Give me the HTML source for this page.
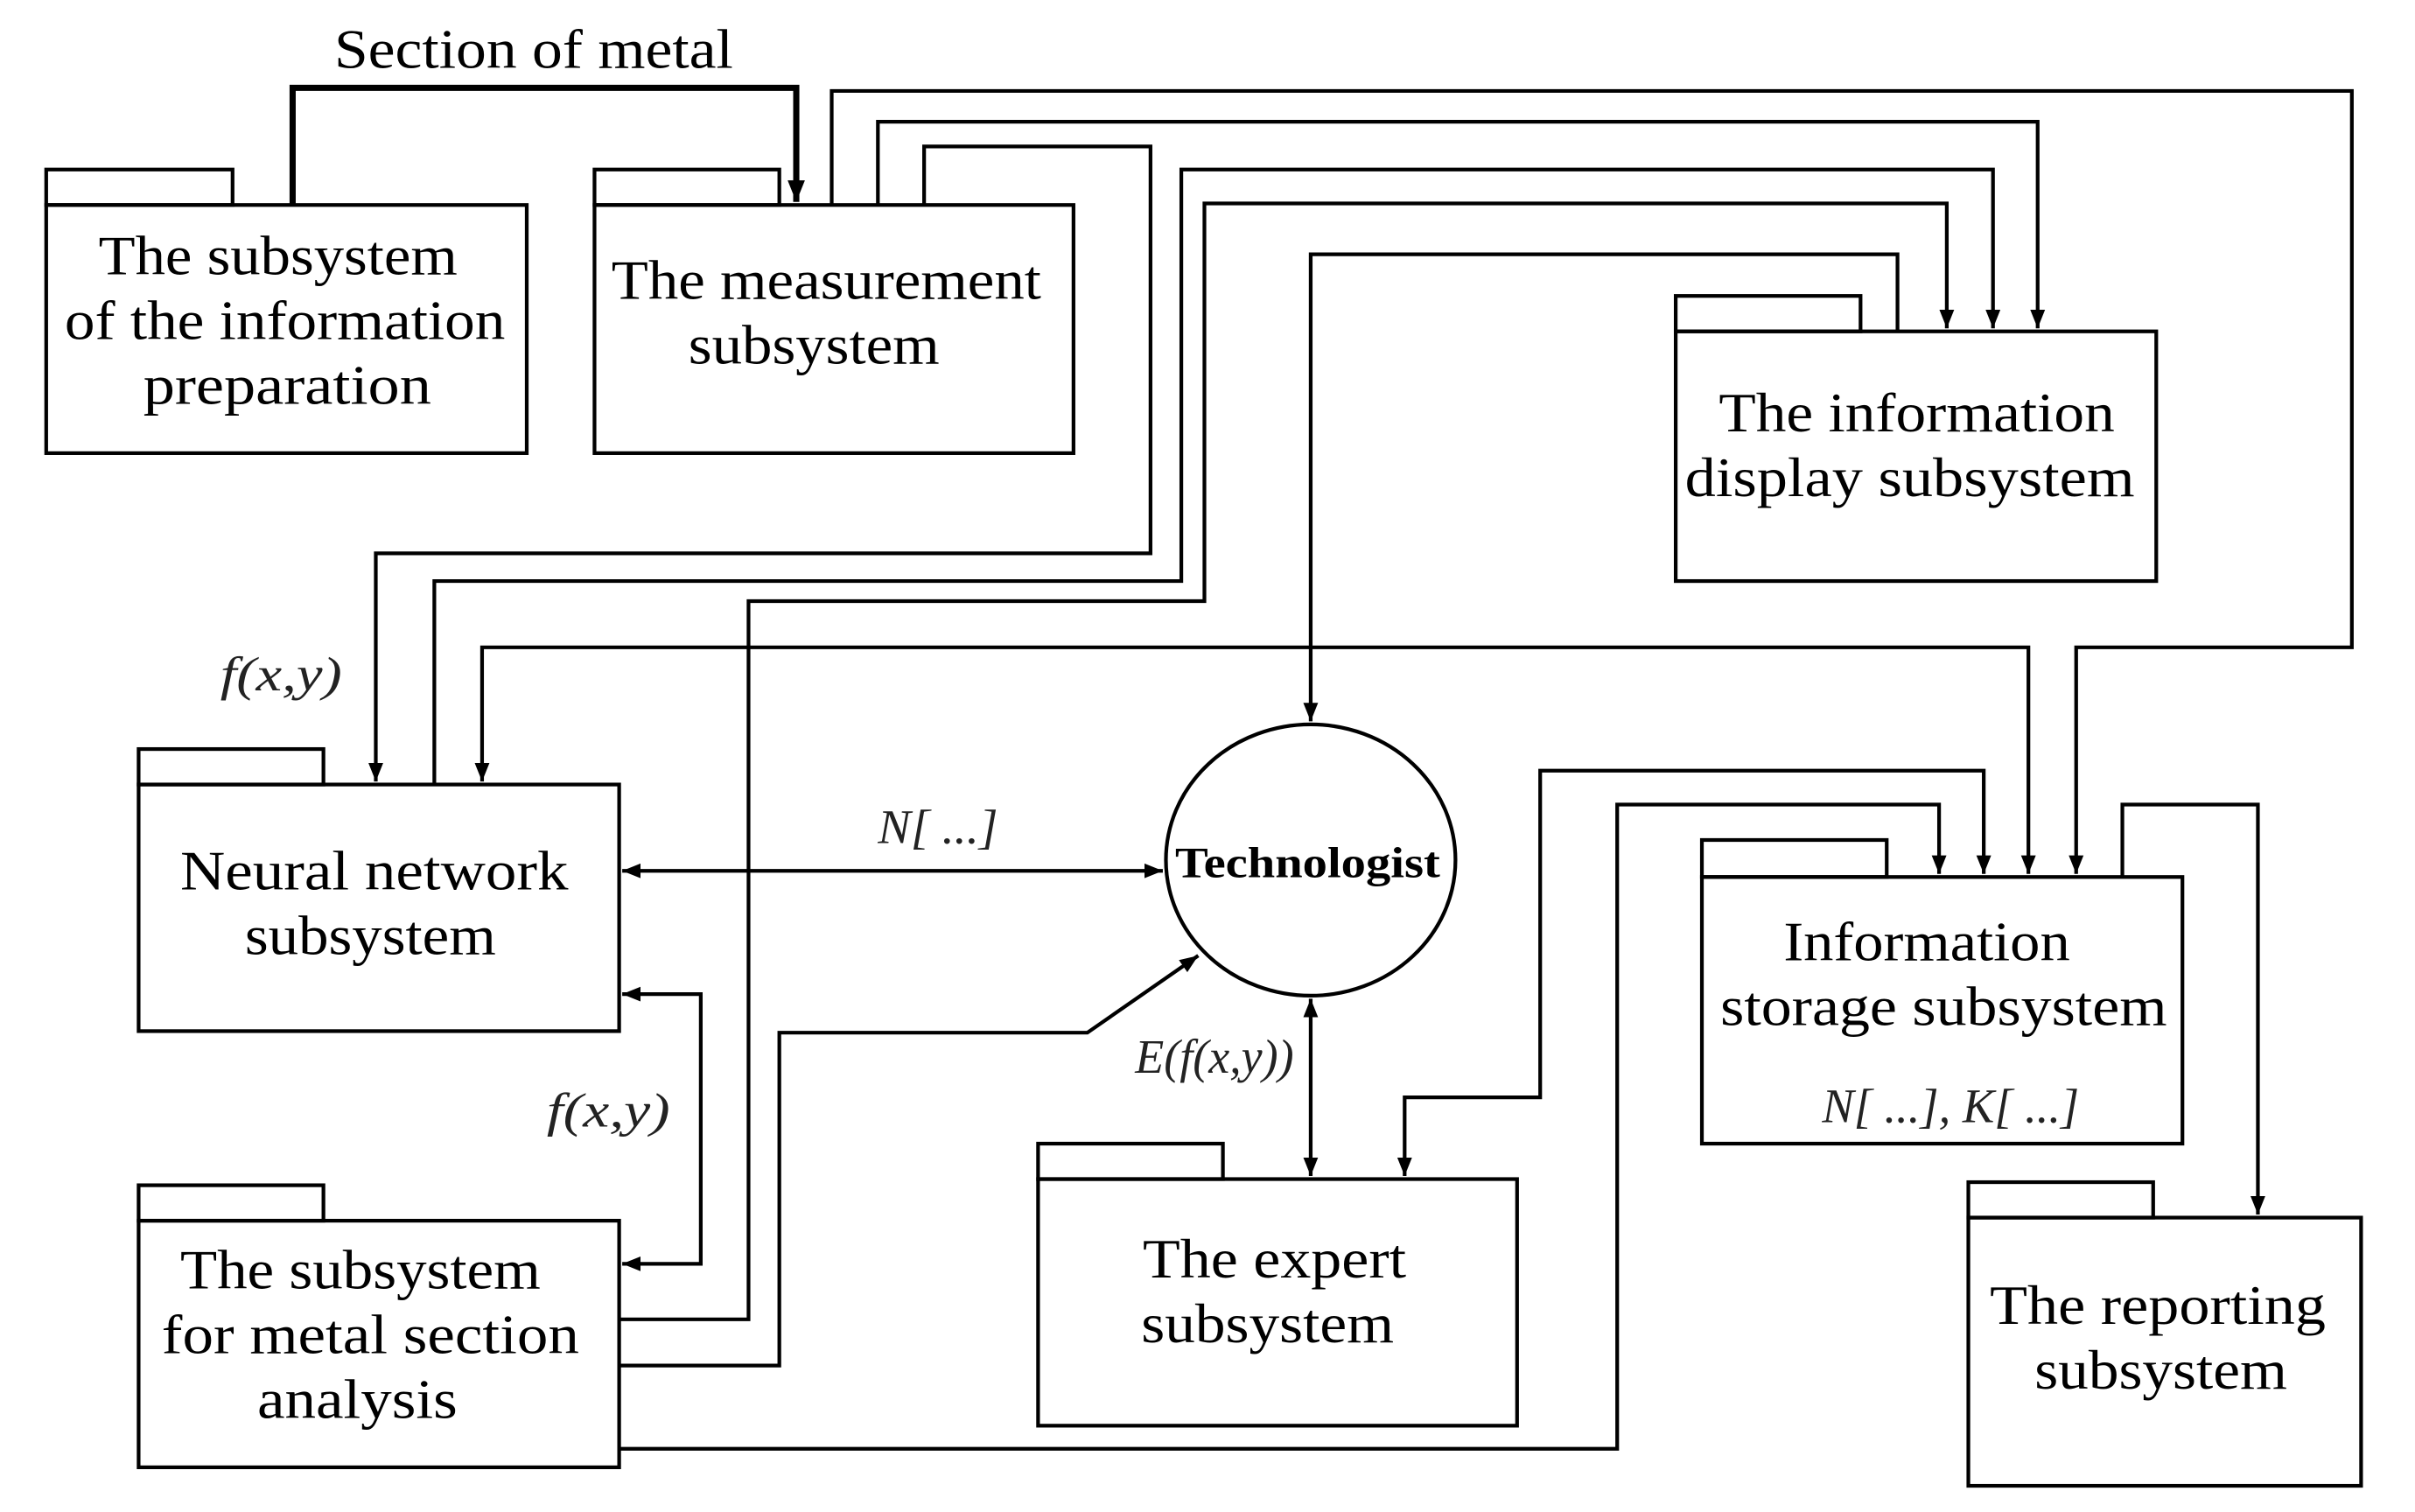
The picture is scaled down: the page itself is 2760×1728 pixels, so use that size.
<!DOCTYPE html>
<html><head><meta charset="utf-8"><style>html,body{margin:0;padding:0;background:#fff}svg{display:block}</style></head>
<body>
<svg width="2760" height="1728" viewBox="0 0 1568 981" preserveAspectRatio="none" xmlns="http://www.w3.org/2000/svg">
<defs>
<marker id="a" viewBox="0 0 10 10" refX="10" refY="5" markerWidth="5" markerHeight="5" orient="auto-start-reverse" markerUnits="strokeWidth"><path d="M0,1 L10,5 L0,9 z" fill="#000"/></marker>
<marker id="b" viewBox="0 0 10 10" refX="10" refY="5" markerWidth="3.5" markerHeight="3.5" orient="auto" markerUnits="strokeWidth"><path d="M0,1 L10,5 L0,9 z" fill="#000"/></marker>
</defs>
<rect width="1568" height="981" fill="#fff"/>
<g fill="none" stroke="#000" stroke-width="2.4">
<rect x="30" y="133" width="312" height="161"/><rect x="30" y="110" width="121" height="23"/>
<rect x="386" y="133" width="311" height="161"/><rect x="386" y="110" width="120" height="23"/>
<rect x="1088" y="215" width="312" height="162"/><rect x="1088" y="192" width="120" height="23"/>
<rect x="90" y="509" width="312" height="160"/><rect x="90" y="486" width="120" height="23"/>
<rect x="90" y="792" width="312" height="160"/><rect x="90" y="769" width="120" height="23"/>
<rect x="674" y="765" width="311" height="160"/><rect x="674" y="742" width="120" height="23"/>
<rect x="1105" y="569" width="312" height="173"/><rect x="1105" y="545" width="120" height="24"/>
<rect x="1278" y="790" width="255" height="174"/><rect x="1278" y="767" width="120" height="23"/>
<ellipse cx="851" cy="558" rx="94" ry="88"/>
<path d="M190,133 V57 H517 V131" stroke-width="4" marker-end="url(#b)"/>
<path d="M540,133 V59 H1527 V420 H1348 V567" marker-end="url(#a)"/>
<path d="M570,133 V79 H1323 V213" marker-end="url(#a)"/>
<path d="M600,133 V95 H747 V359 H244 V507" marker-end="url(#a)"/>
<path d="M282,509 V377 H767 V110 H1294 V213" marker-end="url(#a)"/>
<path d="M402,856 H486 V390 H782 V132 H1264 V213" marker-end="url(#a)"/>
<path d="M1232,215 V165 H851 V468" marker-end="url(#a)"/>
<path d="M313,507 V420 H1317 V567" marker-start="url(#a)" marker-end="url(#a)"/>
<path d="M404,565 H755" marker-start="url(#a)" marker-end="url(#a)"/>
<path d="M402,886 H506 V670 H706 L778,620" marker-end="url(#a)"/>
<path d="M851,648 V763" marker-start="url(#a)" marker-end="url(#a)"/>
<path d="M404,645 H455 V820 H404" marker-start="url(#a)" marker-end="url(#a)"/>
<path d="M912,763 V712 H1000 V500 H1288 V567" marker-start="url(#a)" marker-end="url(#a)"/>
<path d="M402,940 H1050 V522 H1259 V567" marker-end="url(#a)"/>
<path d="M1378,569 V522 H1466 V788" marker-end="url(#a)"/>
</g>
<g font-family="Liberation Serif, serif" font-size="36" fill="#000" lengthAdjust="spacingAndGlyphs">
<text x="217" y="44" textLength="259" lengthAdjust="spacingAndGlyphs">Section of metal</text>
<text x="64" y="178" textLength="233" lengthAdjust="spacingAndGlyphs">The subsystem</text>
<text x="42" y="220" textLength="286" lengthAdjust="spacingAndGlyphs">of the information</text>
<text x="93" y="262" textLength="187" lengthAdjust="spacingAndGlyphs">preparation</text>
<text x="397" y="194" textLength="279" lengthAdjust="spacingAndGlyphs">The measurement</text>
<text x="447" y="236" textLength="163" lengthAdjust="spacingAndGlyphs">subsystem</text>
<text x="1116" y="280" textLength="257" lengthAdjust="spacingAndGlyphs">The information</text>
<text x="1094" y="322" textLength="292" lengthAdjust="spacingAndGlyphs">display subsystem</text>
<text x="117" y="577" textLength="252" lengthAdjust="spacingAndGlyphs">Neural network</text>
<text x="159" y="619" textLength="163" lengthAdjust="spacingAndGlyphs">subsystem</text>
<text x="117" y="836" textLength="234" lengthAdjust="spacingAndGlyphs">The subsystem</text>
<text x="105" y="878" textLength="271" lengthAdjust="spacingAndGlyphs">for metal section</text>
<text x="167" y="920" textLength="130" lengthAdjust="spacingAndGlyphs">analysis</text>
<text x="742" y="829" textLength="171" lengthAdjust="spacingAndGlyphs">The expert</text>
<text x="741" y="871" textLength="164" lengthAdjust="spacingAndGlyphs">subsystem</text>
<text x="1158" y="623" textLength="186" lengthAdjust="spacingAndGlyphs">Information</text>
<text x="1117" y="665" textLength="290" lengthAdjust="spacingAndGlyphs">storage subsystem</text>
<text x="1292" y="859" textLength="218" lengthAdjust="spacingAndGlyphs">The reporting</text>
<text x="1321" y="901" textLength="164" lengthAdjust="spacingAndGlyphs">subsystem</text>
<text x="763" y="569" font-size="28" font-weight="bold" textLength="172" lengthAdjust="spacingAndGlyphs">Technologist</text>
</g>
<g font-family="Liberation Serif, serif" font-size="31" font-style="italic" fill="#222">
<text x="143" y="448" textLength="79" lengthAdjust="spacingAndGlyphs">f(x,y)</text>
<text x="355" y="731" textLength="80" lengthAdjust="spacingAndGlyphs">f(x,y)</text>
<text x="570" y="547" textLength="78" lengthAdjust="spacingAndGlyphs">N[ ...]</text>
<text x="737" y="696" textLength="103" lengthAdjust="spacingAndGlyphs">E(f(x,y))</text>
<text x="1183" y="728" textLength="167" lengthAdjust="spacingAndGlyphs">N[ ...], K[ ...]</text>
</g>
</svg>
</body></html>
